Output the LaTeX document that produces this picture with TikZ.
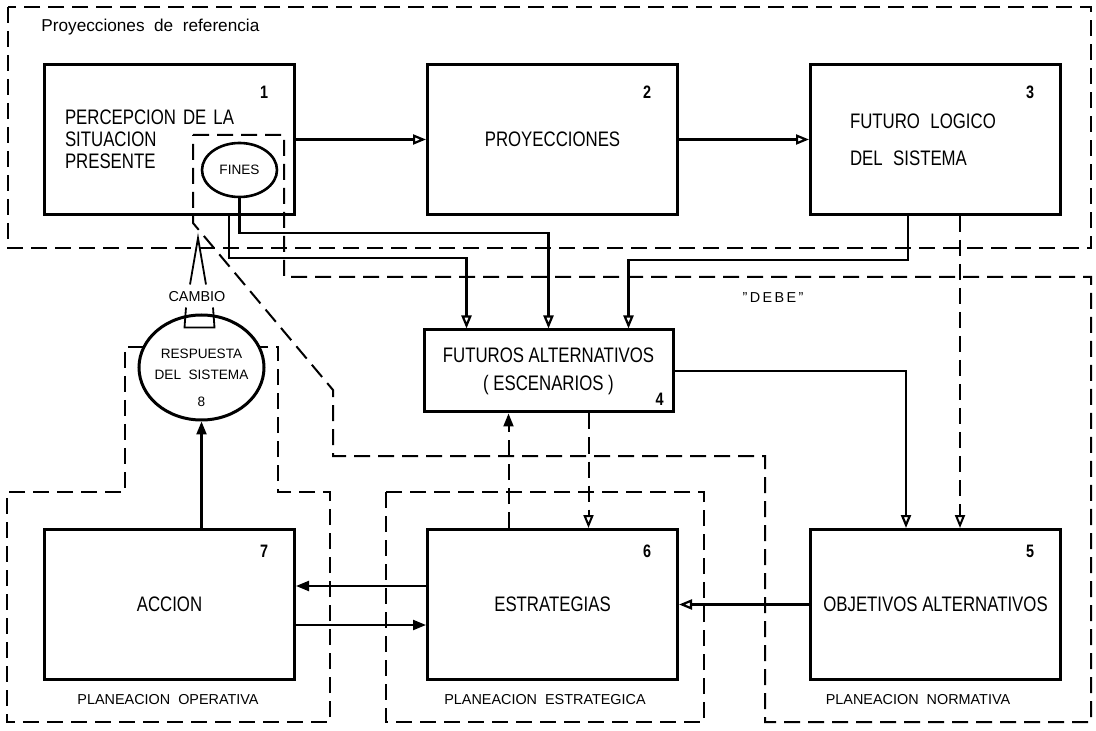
\documentclass[tikz,border=0pt]{standalone}
\usepackage{fontspec}
\setmainfont{Liberation Sans}
\newfontfamily\narrowsans[FakeStretch=0.8]{Liberation Sans}
\usetikzlibrary{arrows.meta,positioning,shapes.geometric}
\tikzset{
  pbox/.style={draw,line width=1.5pt,minimum width=125pt,minimum height=75pt,inner sep=0pt,font=\narrowsans\fontsize{10.5}{11}\selectfont},
  numtag/.style={inner sep=0pt,font=\narrowsans\bfseries\fontsize{9}{10}\selectfont},
  tag/.style={inner sep=0pt,font=\fontsize{7.2}{8}\selectfont},
  flow/.style={-{Triangle[length=6.5pt,width=5pt]},line width=1.1pt},
  flowo/.style={-{Triangle[open,length=6.5pt,width=5pt]},line width=1.1pt},
  zone/.style={line width=1pt,dash pattern=on 8pt off 4pt},
}
\begin{document}
\begin{tikzpicture}[x=0.5pt,y=-0.5pt,node distance=65pt]
  \useasboundingbox (0,0) rectangle (1096,731);
  % zonas punteadas
  \draw[zone] (8,7) rectangle (1091,248);
  \draw[zone] (193,135) -- (284,135) -- (284,277) -- (1091,277) -- (1091,722) -- (765,722) -- (765,456) -- (333,456) -- (333,390) -- (193,223) -- cycle;
  \draw[zone] (144,347) -- (125,347) -- (125,492) -- (7,492) -- (7,722) -- (330,722) -- (330,492) -- (278,492) -- (278,347) -- (259,347);
  \draw[zone] (386,492) rectangle (704,722);
  \node[anchor=base west,inner sep=0pt,font=\fontsize{8.6}{10}\selectfont] (lref) at (41,32) {Proyecciones\ \ de\ \ referencia};
  \node[tag] (ldebe) at (773,298) {"\,D\,E\,B\,E\,"};
  % cajas
  \node[pbox,align=left,text width=104.5pt] (s1) at (169.5,139.5) {PERCEPCION DE LA\\SITUACION\\PRESENTE};
  \node[pbox,right=of s1] (s2) {PROYECCIONES};
  \node[pbox,right=of s2,align=left,text width=85.5pt,font=\narrowsans\fontsize{10.5}{18.5}\selectfont] (s3) {FUTURO\enspace LOGICO\\DEL\enspace SISTEMA};
  \node[pbox,minimum width=124.5pt,minimum height=41pt,align=center,font=\narrowsans\fontsize{10.5}{14}\selectfont] (s4) at (548.5,371) {FUTUROS ALTERNATIVOS\\( ESCENARIOS )};
  \node[pbox,below=156pt of s1] (s7) {ACCION};
  \node[pbox,right=of s7] (s6) {ESTRATEGIAS};
  \node[pbox,right=of s6] (s5) {OBJETIVOS ALTERNATIVOS};
  \foreach \b in {1,2,3} \node[numtag] (n\b) at ([xshift=-16pt,yshift=-14.5pt]s\b.north east) {\b};
  \foreach \b in {5,6,7} \node[numtag] (n\b) at ([xshift=-16pt,yshift=-11.5pt]s\b.north east) {\b};
  \node[numtag] (n4) at ([xshift=-7.5pt,yshift=7pt]s4.south east) {4};
  \node[draw,ellipse,line width=1.3pt,minimum width=37.5pt,minimum height=27pt,inner sep=0pt,font=\fontsize{6.8}{7}\selectfont] (fines) at (239.5,170) {FINES};
  \node[draw,ellipse,line width=1.5pt,minimum width=62.5pt,minimum height=52.5pt] (c8) at (201.5,367.5) {};
  \node[inner sep=0pt,align=center,font=\fontsize{6.8}{10.5}\selectfont] (t8) at (201.5,378) {RESPUESTA\\DEL\ \ SISTEMA\\[3pt]8};
  \node[tag] (lcambio) at (197,297) {CAMBIO};
  \node[tag] (lop) at (168,700) {PLANEACION\ \ OPERATIVA};
  \node[tag] (lest) at (545,700) {PLANEACION\ \ ESTRATEGICA};
  \node[tag] (lnor) at (918,700) {PLANEACION\ \ NORMATIVA};
  % cambio
  \coordinate (cpeak) at (198,238);
  \draw[line width=0.9pt] ([xshift=-3.5pt,yshift=3.5pt]lcambio.north) -- (cpeak) -- ([xshift=4.5pt,yshift=3.5pt]lcambio.north);
  \draw[line width=0.9pt] ([xshift=-5.5pt,yshift=-2.5pt]lcambio.south) -- ++(-1.5,20) -- ++(30,0) -- ++(-1.5,-20);
  % flechas
  \foreach \a/\b in {s1/s2,s2/s3,s5/s6} \draw[flowo] (\a) -- (\b);
  \draw[flowo] (fines.south) -- ++(0,35) -| (s4.north);
  \draw[flowo] ([xshift=-33.5pt]s1.south east) -- ++(0,42) -| ([xshift=22pt]s4.north west);
  \draw[flowo] ([xshift=-13.75pt]s3.south) -- ++(0,44) -| ([xshift=-23pt]s4.north east);
  \draw[flowo,zone] ([xshift=12.25pt]s3.south) -- ([xshift=12.25pt]s3.south |- s5.north);
  \draw[flowo] (s4.east) -| ([xshift=-14.75pt]s5.north);
  \draw[flow,zone] ([xshift=-22pt]s6.north) -- ([xshift=-22pt]s6.north |- s4.south);
  \draw[flowo,zone] ([xshift=20pt]s4.south) -- ([xshift=20pt]s4.south |- s6.north);
  \draw[flow] ([yshift=9.25pt]s6.west) -- ([yshift=9.25pt]s6.west -| s7.east);
  \draw[flow] ([yshift=-10.25pt]s7.east) -- ([yshift=-10.25pt]s7.east -| s6.west);
  \draw[flow] (s7.north -| c8.south) -- (c8.south);
\end{tikzpicture}
\end{document}
